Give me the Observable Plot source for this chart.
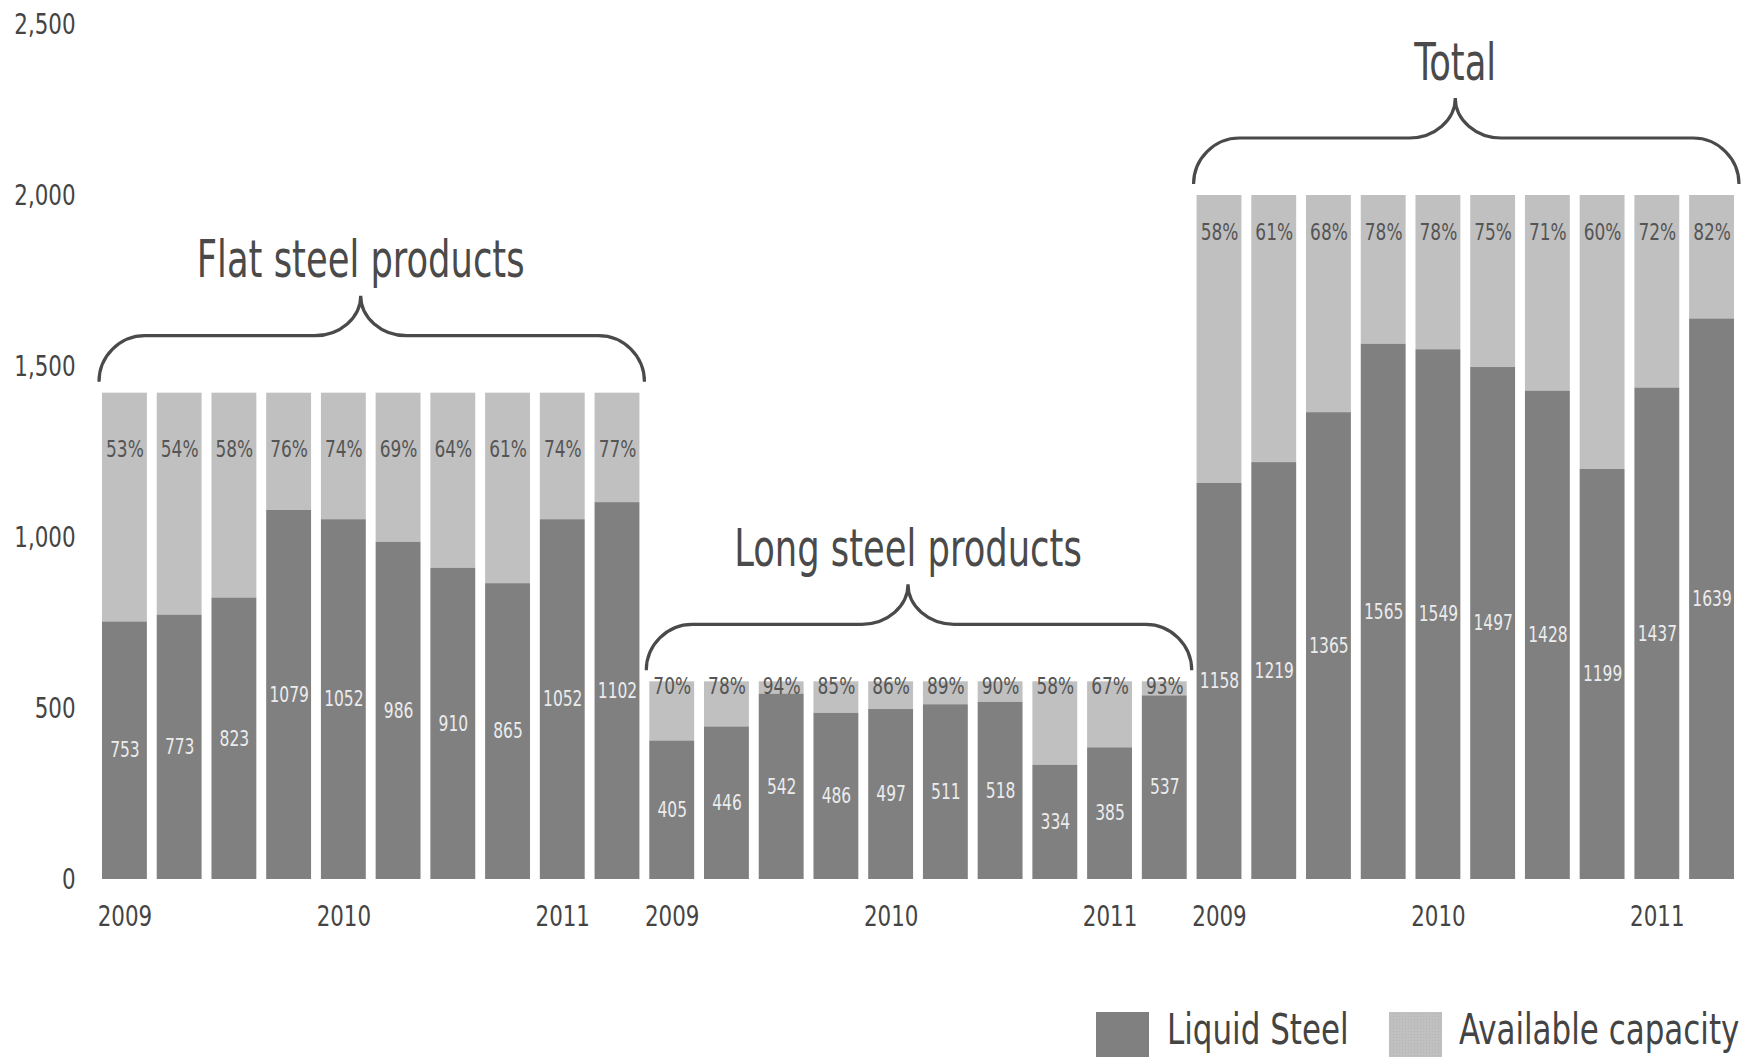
<!DOCTYPE html>
<html><head><meta charset="utf-8">
<script src="https://cdn.jsdelivr.net/npm/d3@7"></script>
<script src="https://cdn.jsdelivr.net/npm/@observablehq/plot@0.6"></script>
<style>
body{margin:0;background:#fff;}
#chart{position:relative;width:1754px;height:1057px;overflow:hidden;font-family:"DejaVu Sans Condensed","DejaVu Sans",sans-serif;}
#legend{position:absolute;left:0;top:1012px;width:1754px;height:45px;}
.sw{position:absolute;top:0;width:53px;height:45px;}
.lt{position:absolute;top:-8px;font-size:43px;color:#444;line-height:50px;white-space:nowrap;transform:scaleX(0.8);transform-origin:0 50%;}
</style></head><body><div id="chart"></div>
<script>
const groups = ["Flat steel products", "Long steel products", "Total"];
const periodLabels = ["2009", "", "", "", "2010", "", "", "", "2011", ""];
const flatLiquid = [753, 773, 823, 1079, 1052, 986, 910, 865, 1052, 1102];
const longLiquid = [405, 446, 542, 486, 497, 511, 518, 334, 385, 537];
const totalLiquid = [1158, 1219, 1365, 1565, 1549, 1497, 1428, 1199, 1437, 1639];
const flatPct = [53, 54, 58, 76, 74, 69, 64, 61, 74, 77];
const longPct = [70, 78, 94, 85, 86, 89, 90, 58, 67, 93];
const totalPct = [58, 61, 68, 78, 78, 75, 71, 60, 72, 82];
const capacity = [1422, 578, 2000];
const yTicks = [0, 500, 1000, 1500, 2000, 2500];
const seriesNames = ["Liquid Steel", "Available capacity"];

const liquids = [flatLiquid, longLiquid, totalLiquid];
const pcts = [flatPct, longPct, totalPct];
const rows = [];
groups.forEach((g, gi) => {
  liquids[gi].forEach((v, i) => {
    rows.push({key: `${gi}-${i}`, g: gi, i, liquid: v, pct: pcts[gi][i], cap: capacity[gi]});
  });
});
const keys = rows.map(d => d.key);
const tickKeys = rows.filter(d => periodLabels[d.i] !== "").map(d => d.key);

const FONT = '"DejaVu Sans Condensed","DejaVu Sans",sans-serif';
const DARK = "#808080", LIGHT = "#c0c0c0";
const pctDy = [56, 5, 37];
const SX = 0.82;

const W = 1754, H = 970;
const plot = Plot.plot({
  width: W, height: H,
  marginLeft: 102, marginRight: 20, marginTop: 24, marginBottom: 91,
  style: {fontFamily: FONT, background: "white"},
  x: {domain: keys, paddingInner: 0.18, paddingOuter: 0, align: 0, round: false},
  y: {domain: [0, 2500]},
  marks: [
    Plot.barY(rows, {x: "key", y1: "liquid", y2: "cap", fill: LIGHT}),
    Plot.barY(rows, {x: "key", y1: 0, y2: "liquid", fill: DARK}),
    Plot.text(rows, {x: "key", y: d => d.liquid / 2, text: d => String(d.liquid), fill: "#ececec", fontSize: 21}),
    ...[0, 1, 2].map(gi => Plot.text(rows.filter(d => d.g === gi), {x: "key", y: "cap", dy: pctDy[gi], text: d => d.pct + "%", fill: "#555", fontSize: 23})),
    Plot.axisY({ticks: yTicks, tickSize: 0, tickPadding: 27, tickFormat: d3.format(","), fontSize: 29, fill: "#444", label: null}),
    Plot.axisX({ticks: tickKeys, tickSize: 0, tickPadding: 26, tickFormat: k => periodLabels[+k.split("-")[1]], fontSize: 29, fill: "#444", label: null})
  ]
});

const chart = document.getElementById("chart");
chart.appendChild(plot);
const svg = d3.select(plot);

const xs = plot.scale("x"), ys = plot.scale("y");
const bw = xs.bandwidth;
groups.forEach((g, gi) => {
  const L = xs.apply(`${gi}-0`) - 3;
  const R = xs.apply(`${gi}-9`) + bw + 5;
  const c = (L + R) / 2 - 11;
  const top = ys.apply(capacity[gi]);
  const yEnd = top - 11, yH = top - 57, yTip = top - 97;
  const r = 46, dv = yEnd - yH, dt = yH - yTip;
  const p = d3.path();
  p.moveTo(L, yEnd);
  p.bezierCurveTo(L, yEnd - dv * 0.55, L + r * 0.45, yH, L + r, yH);
  p.lineTo(c - r, yH);
  p.bezierCurveTo(c - r * 0.45, yH, c, yH - dt * 0.45, c, yTip);
  p.bezierCurveTo(c, yH - dt * 0.45, c + r * 0.45, yH, c + r, yH);
  p.lineTo(R - r, yH);
  p.bezierCurveTo(R - r * 0.45, yH, R, yEnd - dv * 0.55, R, yEnd);
  svg.append("path").attr("d", p.toString()).attr("fill", "none").attr("stroke", "#4a4a4a").attr("stroke-width", 3.2);
  svg.append("text").attr("class", "gtitle").attr("x", c).attr("y", top - 133)
    .attr("text-anchor", "middle").attr("dominant-baseline", "central")
    .attr("font-size", 51).attr("fill", "#4a4a4a").attr("font-family", FONT).text(g);
});

// narrow the glyphs to match the condensed face of the original
svg.selectAll("text").each(function () {
  const s = this.getAttribute("class") === "gtitle" ? 0.77 : SX;
  const len = this.getComputedTextLength();
  if (len > 0) {
    this.setAttribute("textLength", (len * s).toFixed(2));
    this.setAttribute("lengthAdjust", "spacingAndGlyphs");
  }
});

const legend = document.createElement("div");
legend.id = "legend";
const items = [
  {name: seriesNames[0], sw: 1096, tx: 1167, bg: DARK},
  {name: seriesNames[1], sw: 1389, tx: 1459, bg: LIGHT}
];
items.forEach(it => {
  const s = document.createElement("div");
  s.className = "sw"; s.style.left = it.sw + "px"; s.style.background = it.bg;
  if (it.bg === LIGHT) { s.style.backgroundImage = "radial-gradient(#b4b4b4 0.8px, transparent 0.9px)"; s.style.backgroundSize = "3px 3px"; }
  const t = document.createElement("div");
  t.className = "lt"; t.style.left = it.tx + "px"; t.textContent = it.name;
  legend.appendChild(s); legend.appendChild(t);
});
chart.appendChild(legend);
</script></body></html>
